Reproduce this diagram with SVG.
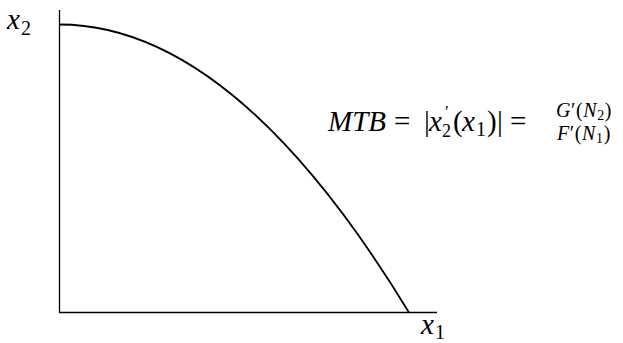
<svg xmlns="http://www.w3.org/2000/svg" width="623" height="343" viewBox="0 0 623 343">
<style>
.ax{stroke:#000;stroke-width:1.3;fill:none}
.cv{stroke:#000;stroke-width:1.8;fill:none}
</style>
<rect width="623" height="343" fill="#fff"/>
<g id="axes">
<line class="ax" x1="59.5" y1="10" x2="59.5" y2="312.5"/>
<line class="ax" x1="59" y1="312.5" x2="437" y2="312.5"/>
</g>
<g id="connectors">
<path id="curve" class="cv" d="M59.5,24.5 Q234,24.5 409,312.5"/>
</g>
<g id="label-x2" font-family="Liberation Serif" fill="#000">
<text x="7" y="29" font-size="29" font-style="italic">x</text>
<text x="21" y="35" font-size="20">2</text>
</g>
<g id="label-x1" font-family="Liberation Serif" fill="#000">
<text x="421" y="334" font-size="29" font-style="italic">x</text>
<text x="435" y="339" font-size="20">1</text>
</g>
<g id="formula" font-family="Liberation Serif" fill="#000">
<text x="328" y="131" font-size="29" font-style="italic">MTB</text>
<text x="394" y="131" font-size="29">=</text>
<text x="424" y="131" font-size="29">|</text>
<text x="429" y="131" font-size="29" font-style="italic">x</text>
<text x="445" y="117" font-size="17">′</text>
<text x="442" y="137" font-size="18">2</text>
<text x="453" y="131" font-size="29">(</text>
<text x="462" y="131" font-size="29" font-style="italic">x</text>
<text x="476" y="136" font-size="20">1</text>
<text x="487" y="131" font-size="29">)</text>
<text x="497" y="131" font-size="29">|</text>
<text x="510" y="131" font-size="29">=</text>
<text x="556" y="117" font-size="20" letter-spacing="0.6"><tspan font-style="italic">G</tspan>′(<tspan font-style="italic">N</tspan><tspan font-size="14" dy="3">2</tspan><tspan dy="-3">)</tspan></text>
<text x="557" y="140" font-size="20" letter-spacing="0.6"><tspan font-style="italic">F</tspan>′(<tspan font-style="italic">N</tspan><tspan font-size="14" dy="3">1</tspan><tspan dy="-3">)</tspan></text>
</g>
</svg>
